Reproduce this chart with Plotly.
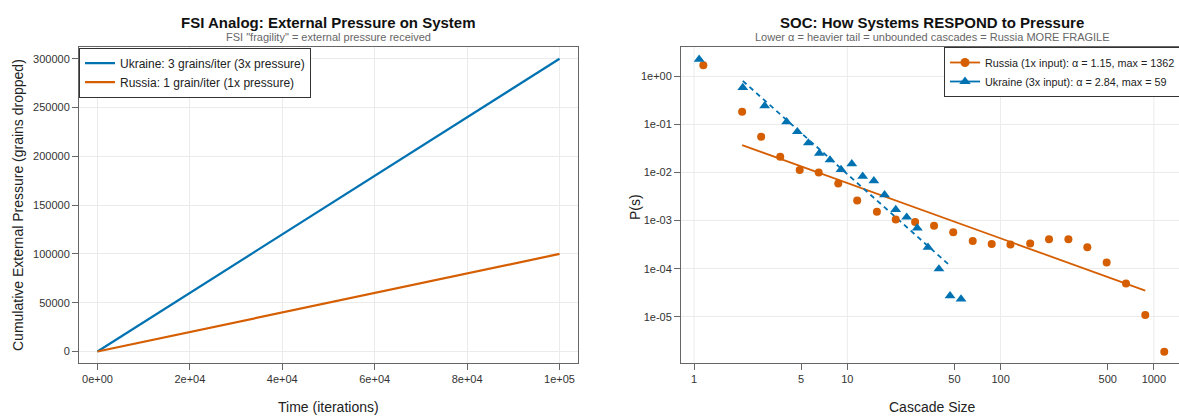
import plotly.graph_objects as go
import numpy as np

W, H = 1179, 416
BLUE = "#0072B2"
ORANGE = "#D55E00"
FONT = "Liberation Sans, Arial, sans-serif"

# ---------------- Left panel data ----------------
time_iter = [0, 100000]
ukraine_cum = [0, 300000]
russia_cum = [0, 100000]
left_xticks = [0, 20000, 40000, 60000, 80000, 100000]
left_xticktext = ["0e+00", "2e+04", "4e+04", "6e+04", "8e+04", "1e+05"]
left_yticks = [0, 50000, 100000, 150000, 200000, 250000, 300000]

# ---------------- Right panel data ----------------
ru_size = [1.15, 2.06, 2.74, 3.65, 4.89, 6.51, 8.73, 11.6, 15.6, 20.7, 27.7, 36.8,
           49.1, 65.8, 87.5, 116, 156, 207, 277, 368, 492, 658, 879, 1169]
ru_p = [1.69, 0.182, 0.0554, 0.0213, 0.0113, 0.00995, 0.00589, 0.00262, 0.00153,
        0.00106, 0.00093, 0.000784, 0.00057, 0.000377, 0.000326, 0.000317, 0.000333,
        0.000408, 0.000408, 0.000279, 0.000134, 4.94e-5, 1.09e-5, 1.89e-6]
ua_size = [1.08, 2.08, 2.89, 4.02, 4.72, 5.57, 6.57, 7.71, 9.10, 10.7, 12.6, 14.9,
           17.5, 20.7, 24.4, 28.6, 33.6, 39.6, 46.8, 55.2]
ua_p = [2.25, 0.581, 0.243, 0.113, 0.0703, 0.041, 0.025, 0.0182, 0.0115, 0.0151,
        0.00834, 0.0067, 0.00344, 0.0017, 0.00118, 0.0007, 0.000279, 9.9e-5,
        2.73e-5, 2.34e-5]
# power-law fits: log10 P = intercept - alpha * log10 s, over [s_start, s_end]
ru_alpha, ru_log_c, ru_fit_range = 1.15, -1.069, [2.06, 879]
ua_alpha, ua_log_c, ua_fit_range = 2.84, 0.806, [2.08, 46.8]
right_xticks = [1, 5, 10, 50, 100, 500, 1000]
right_xgrid = [1, 10, 100, 1000]
right_yticks = [1, 0.1, 0.01, 0.001, 0.0001, 0.00001]
right_yticktext = ["1e+00", "1e-01", "1e-02", "1e-03", "1e-04", "1e-05"]


def fit_line(rng, alpha, log_c):
    s = np.array(rng, dtype=float)
    return s, 10 ** (log_c - alpha * np.log10(s))


ru_fx, ru_fy = fit_line(ru_fit_range, ru_alpha, ru_log_c)
ua_fx, ua_fy = fit_line(ua_fit_range, ua_alpha, ua_log_c)

fig = go.Figure()

# Left panel traces
fig.add_trace(go.Scatter(x=time_iter, y=ukraine_cum, mode="lines",
                         line=dict(color=BLUE, width=2.2),
                         name="Ukraine: 3 grains/iter (3x pressure)",
                         xaxis="x", yaxis="y", legend="legend"))
fig.add_trace(go.Scatter(x=time_iter, y=russia_cum, mode="lines",
                         line=dict(color=ORANGE, width=2.2),
                         name="Russia: 1 grain/iter (1x pressure)",
                         xaxis="x", yaxis="y", legend="legend"))

# Right panel traces
fig.add_trace(go.Scatter(x=ru_fx, y=ru_fy, mode="lines", line=dict(color=ORANGE, width=1.8),
                         showlegend=False, xaxis="x2", yaxis="y2", hoverinfo="skip"))
fig.add_trace(go.Scatter(x=ua_fx, y=ua_fy, mode="lines",
                         line=dict(color=BLUE, width=1.8, dash="5px,4px"),
                         showlegend=False, xaxis="x2", yaxis="y2", hoverinfo="skip"))
fig.add_trace(go.Scatter(x=ru_size, y=ru_p, mode="markers",
                         marker=dict(color=ORANGE, size=8, symbol="circle"),
                         showlegend=False, xaxis="x2", yaxis="y2"))
fig.add_trace(go.Scatter(x=ua_size, y=ua_p, mode="markers",
                         marker=dict(color=BLUE, size=9.5, symbol="triangle-up"),
                         showlegend=False, xaxis="x2", yaxis="y2"))
# legend entries
fig.add_trace(go.Scatter(x=[None], y=[None], mode="lines+markers",
                         line=dict(color=ORANGE, width=1.8),
                         marker=dict(color=ORANGE, size=9, symbol="circle"),
                         name=f"Russia (1x input): α = {ru_alpha:.2f}, max = 1362",
                         xaxis="x2", yaxis="y2", legend="legend2"))
fig.add_trace(go.Scatter(x=[None], y=[None], mode="lines+markers",
                         line=dict(color=BLUE, width=1.8),
                         marker=dict(color=BLUE, size=10, symbol="triangle-up"),
                         name=f"Ukraine (3x input): α = {ua_alpha:.2f}, max = 59",
                         xaxis="x2", yaxis="y2", legend="legend2"))

# pixel helpers
px = lambda v: v / W
py = lambda v: (H - v) / H

Y_DOM = [py(363.2), py(47)]
AX = "#666666"
GRID = "#EBEBEB"
TICKFONT = dict(family=FONT, size=11, color="#333333")

common = dict(showline=True, linecolor=AX, linewidth=1, ticks="outside", ticklen=6,
              tickcolor=AX, tickfont=TICKFONT, zeroline=False)

fig.update_layout(
    width=W, height=H,
    margin=dict(l=0, r=0, t=0, b=0, autoexpand=False),
    plot_bgcolor="white", paper_bgcolor="white",
    font=dict(family=FONT, color="#222222"),
    xaxis=dict(domain=[px(79), px(578)], range=[-4000, 104000], anchor="y",
               tickvals=left_xticks, ticktext=left_xticktext, mirror=True,
               gridcolor=GRID, gridwidth=1, **common),
    yaxis=dict(domain=Y_DOM, range=[-12000, 312000], anchor="x",
               tickvals=left_yticks, ticktext=[str(v) for v in left_yticks],
               mirror=True, gridcolor=GRID, gridwidth=1, **common),
    xaxis2=dict(domain=[px(681), 1.0], type="log", range=[-0.085, 3.164], anchor="y2",
                tickvals=right_xticks, ticktext=[str(v) for v in right_xticks],
                mirror=True, showgrid=False, **common),
    yaxis2=dict(domain=Y_DOM, type="log", range=[-5.963, 0.607], anchor="x2",
                tickvals=right_yticks, ticktext=right_yticktext, mirror=False,
                gridcolor=GRID, gridwidth=1, **common),
    legend=dict(x=px(79), y=py(47.6), xanchor="left", yanchor="top",
                bgcolor="white", bordercolor="#333333", borderwidth=1,
                font=dict(family=FONT, size=12, color="#222222"),
                tracegroupgap=0, itemwidth=30),
    legend2=dict(x=px(944), y=py(47), xanchor="left", yanchor="top",
                 bgcolor="white", bordercolor="#333333", borderwidth=1,
                 font=dict(family=FONT, size=10.8, color="#222222"),
                 tracegroupgap=0, itemwidth=30),
)

# vertical grid lines at decades only (right panel)
for g in right_xgrid:
    fig.add_shape(type="line", xref="x2", yref="y2 domain", x0=g, x1=g, y0=0, y1=1,
                  line=dict(color=GRID, width=1), layer="below")

ann = []
def text(x, y, s, size, color="#222222", bold=False, angle=0):
    ann.append(dict(x=px(x), y=py(y), xref="paper", yref="paper", text=f"<b>{s}</b>" if bold else s,
                    showarrow=False, xanchor="center", yanchor="middle", textangle=angle,
                    font=dict(family=FONT, size=size, color=color)))

text(328, 22, "FSI Analog: External Pressure on System", 15, "#111111", bold=True)
text(328, 37, 'FSI "fragility" = external pressure received', 11, "#666666")
text(932, 22, "SOC: How Systems RESPOND to Pressure", 15, "#111111", bold=True)
text(932, 37, "Lower α = heavier tail = unbounded cascades = Russia MORE FRAGILE", 11, "#666666")
text(328, 407, "Time (iterations)", 14)
text(932, 407, "Cascade Size", 14)
text(18, 205, "Cumulative External Pressure (grains dropped)", 14, angle=-90)
text(635, 207, "P(s)", 14, angle=-90)
fig.update_layout(annotations=ann)

fig.write_html("out.html")
